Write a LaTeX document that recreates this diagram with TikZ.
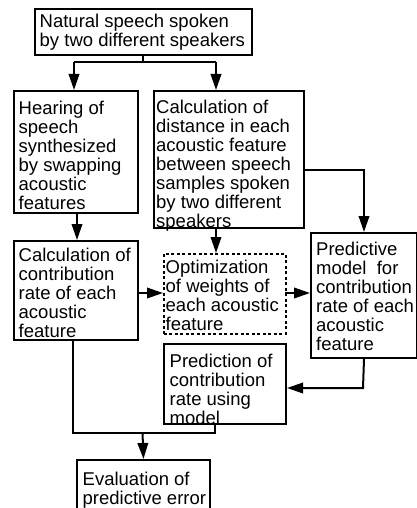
\documentclass[tikz,border=0pt]{standalone}
\usepackage{fontspec}
\setmainfont{Liberation Sans}
\usetikzlibrary{arrows.meta}
\newcommand{\boxlines}[1]{\begin{tabular}{@{}l@{}}#1\end{tabular}}
\begin{document}
\begin{tikzpicture}[x=1pt,y=-1pt,
  box/.style={draw, line width=2pt, anchor=north west, inner sep=0pt},
  dbox/.style={box, line width=1.8pt, dash pattern=on 3pt off 2.5pt},
  txt/.style={anchor=north west, inner sep=0pt, font=\fontsize{18.5}{18.6}\selectfont},
  conn/.style={line width=2pt},
  arr/.style={conn, -{Triangle[length=16pt,width=10.5pt]}}]
\useasboundingbox (0,0) rectangle (417,508);
\node[box, minimum width=217pt, minimum height=46pt,
  label={[txt, font=\fontsize{18.5}{17.7}\selectfont, xshift=5.5pt, yshift=-6pt]north west:{\boxlines{Natural speech spoken\\by two different speakers}}}] (top) at (34,8) {};
\node[box, minimum width=124pt, minimum height=122pt,
  label={[txt, xshift=5.5pt, yshift=-11pt]north west:{\boxlines{Hearing of\\speech\\synthesized\\by swapping\\acoustic\\features}}}] (hear) at (13,90) {};
\node[box, minimum width=150pt, minimum height=137pt,
  label={[txt, xshift=3pt, yshift=-10pt]north west:{\boxlines{Calculation of\\distance in each\\acoustic feature\\between speech\\samples spoken\\by two different\\speakers}}}] (dist) at (153,90) {};
\node[box, minimum width=124pt, minimum height=99pt,
  label={[txt, xshift=5.5pt, yshift=-7.5pt]north west:{\boxlines{Calculation of\\contribution\\rate of each\\acoustic\\feature}}}] (contrib) at (13,240) {};
\node[dbox, minimum width=122pt, minimum height=80pt,
  label={[txt, xshift=2.5pt, yshift=-7pt]north west:{\boxlines{Optimization\\of weights of\\each acoustic\\feature}}}] (opt) at (163,253) {};
\node[box, minimum width=106pt, minimum height=125pt,
  label={[txt, xshift=6pt, yshift=-10pt]north west:{\boxlines{Predictive\\model\ \ for\\contribution\\rate of each\\acoustic\\feature}}}] (pmodel) at (310,232) {};
\node[box, minimum width=122pt, minimum height=80pt,
  label={[txt, xshift=6.5pt, yshift=-10.5pt]north west:{\boxlines{Prediction of\\contribution\\rate using\\model}}}] (pred) at (163,343) {};
\node[box, minimum width=133pt, minimum height=70pt,
  label={[txt, xshift=6.5pt, yshift=-13pt]north west:{\boxlines{Evaluation of\\predictive error}}}] (eval) at (76,459) {};
% connectors
\coordinate (f1) at (143,62);
\coordinate (fl) at (74,62);
\coordinate (fr) at (216,62);
\draw[conn] (top.south -| f1) -- (f1);
\draw[conn] (fl) -- (fr);
\draw[arr] (fl) -- (fl |- hear.north);
\draw[arr] (fr) -- (fr |- dist.north);
\draw[arr] (hear.south -| 77,0) -- (77,240);
\coordinate (d1) at (216,227);
\draw[arr] (d1) -- (d1 |- opt.north);
\coordinate (d2) at (303,170);
\draw[arr] (d2) -| (pmodel.north);
\coordinate (c1) at (137,293);
\draw[arr] (c1) -- (c1 -| opt.west);
\coordinate (o1) at (285,293);
\draw[arr] (o1) -- (o1 -| pmodel.west);
\coordinate (p1) at (363,388);
\draw[arr] (pmodel.south) -- (p1) -- (p1 -| pred.east);
\coordinate (j) at (142.5,433);
\coordinate (cb) at (73,339);
\coordinate (pb) at (215,423);
\draw[conn] (cb) |- (j) -| (pb);
\draw[arr] (j) -- (eval.north);
\end{tikzpicture}
\end{document}
